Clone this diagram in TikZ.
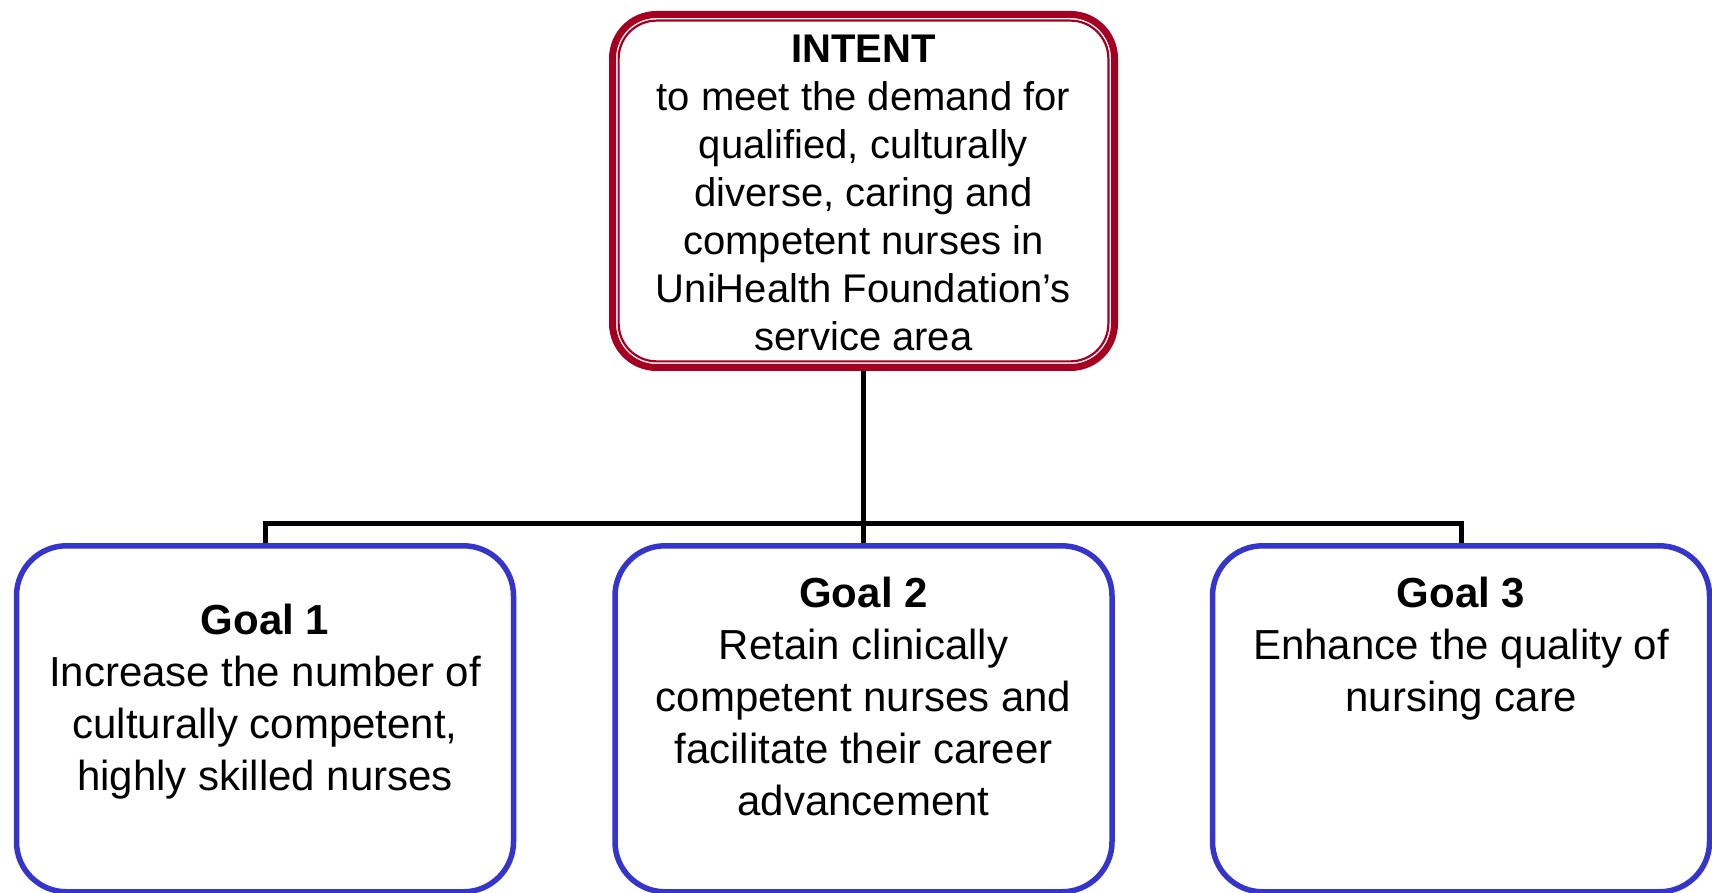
\documentclass[tikz,border=0pt]{standalone}
\usepackage{fontspec}
\setmainfont{Liberation Sans}
\usetikzlibrary{positioning}
\definecolor{intentred}{HTML}{A50021}
\definecolor{goalblue}{HTML}{3535CC}

\begin{document}
\begin{tikzpicture}[x=1pt, y=1pt,
    intentbox/.style={draw=intentred, line width=7pt, rounded corners=44pt,
        minimum width=502pt, minimum height=353pt, inner sep=0pt},
    goalbox/.style={draw=goalblue, line width=5.5pt, rounded corners=50pt,
        minimum width=497pt, minimum height=346pt, inner sep=0pt},
    intenttext/.style={inner sep=0pt, align=center, font=\fontsize{40}{48}\selectfont},
    goaltext/.style={inner sep=0pt, align=center, font=\fontsize{42}{52}\selectfont},
    link/.style={line width=5pt}]

    % Fix the page to the size of the reference.
    \useasboundingbox (0,0) rectangle (1712,893);

    % The intent box, with its thin inner rim.
    \node[intentbox] (intent) at (863.5,702) {};
    \draw[intentred, line width=2.2pt, rounded corners=38pt]
        ([shift={(9.6,9.6)}]intent.south west) rectangle ([shift={(-9.6,-9.6)}]intent.north east);
    \node[intenttext, below=23.4pt of intent.north] (intenttxt)
        {{\bfseries INTENT}\\to meet the demand for\\qualified, culturally\\diverse, caring and\\competent nurses in\\UniHealth Foundation’s\\service area};

    % The three goal boxes, running off the bottom of the page.
    \node[goalbox] (g1) at (265,174.2) {};
    \node[goalbox] (g2) at (863.5,174.2) {};
    \node[goalbox] (g3) at (1461,174.2) {};

    \node[goaltext, below=61pt of g1.north] (g1txt)
        {{\bfseries Goal 1}\\Increase the number of\\culturally competent,\\highly skilled nurses};
    \node[goaltext, below=34pt of g2.north] (g2txt)
        {{\bfseries Goal 2}\\Retain clinically\\competent nurses and\\facilitate their career\\advancement};
    \node[goaltext, below=34pt of g3.north] (g3txt)
        {{\bfseries Goal 3}\\Enhance the quality of\\nursing care};

    % Tree connectors from the intent to the goals.
    \coordinate (bar) at ([yshift=-153pt]intent.south);
    \draw[link] (intent.south) -- (bar);
    \draw[link] (g1.north) |- (bar) -| (g3.north);
    \draw[link] (bar) -- (g2.north);
\end{tikzpicture}
\end{document}
